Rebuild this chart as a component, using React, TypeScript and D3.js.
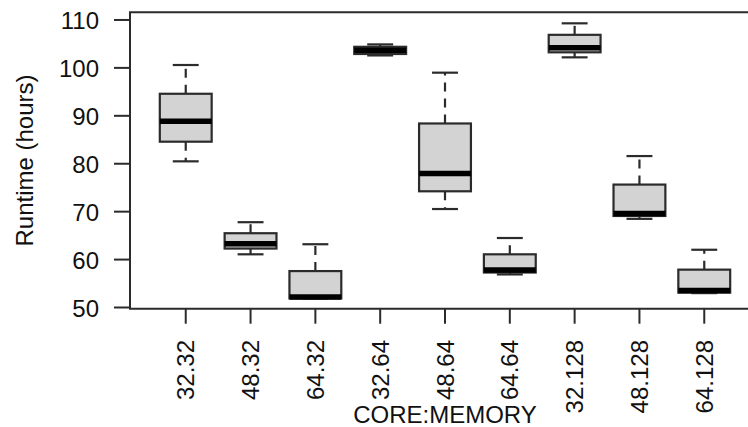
import React from "react";
import * as d3 from "d3";

const categories = ["32.32", "48.32", "64.32", "32.64", "48.64", "64.64", "32.128", "48.128", "64.128"];
const lowerWhisker = [80.5, 61.1, 51.9, 102.6, 70.55, 56.9, 102.2, 68.5, 53.0];
const q1Values = [84.6, 62.3, 51.9, 102.9, 74.25, 57.3, 103.25, 69.1, 53.1];
const medianValues = [88.85, 63.3, 52.2, 103.7, 77.95, 57.8, 104.2, 69.6, 53.55];
const q3Values = [94.6, 65.5, 57.6, 104.4, 88.4, 61.1, 106.9, 75.65, 57.9];
const upperWhisker = [100.6, 67.8, 63.2, 104.9, 99.0, 64.5, 109.3, 81.6, 62.05];
const yTicks = [50, 60, 70, 80, 90, 100, 110];

const W = 748;
const H = 427;
const FONT = "'Liberation Sans', Arial, Helvetica, sans-serif";
const INK = "#2b2b2b";

export default function App() {
  const n = categories.length;
  const x = d3.scaleLinear().domain([0.5 - 0.36, n + 0.5 + 0.36]).range([130, 760]);
  const y = d3.scaleLinear().domain([49.75, 111.6]).range([308.7, 12.3]);
  const unit = x(2) - x(1);
  const half = unit * 0.4;
  const staple = half * 0.5;
  const left = x.range()[0];
  const right = x.range()[1];
  const top = y.range()[1];
  const bottom = y.range()[0];

  return (
    <svg width={W} height={H} style={{ position: "absolute", left: 0, top: 0, background: "#fff" }} fontFamily={FONT}>
      {/* boxes */}
      {categories.map((c, i) => {
        const cx = x(i + 1);
        return (
          <g key={c}>
            <line x1={cx} x2={cx} y1={y(q3Values[i])} y2={y(upperWhisker[i])} stroke={INK} strokeWidth={2.2} strokeDasharray="9,7" />
            <line x1={cx} x2={cx} y1={y(q1Values[i])} y2={y(lowerWhisker[i])} stroke={INK} strokeWidth={2.2} strokeDasharray="9,7" />
            <line x1={cx - staple} x2={cx + staple} y1={y(upperWhisker[i])} y2={y(upperWhisker[i])} stroke={INK} strokeWidth={2.2} />
            <line x1={cx - staple} x2={cx + staple} y1={y(lowerWhisker[i])} y2={y(lowerWhisker[i])} stroke={INK} strokeWidth={2.2} />
            <rect x={cx - half} y={y(q3Values[i])} width={2 * half} height={Math.max(0.5, y(q1Values[i]) - y(q3Values[i]))} fill="#d3d3d3" stroke={INK} strokeWidth={2.2} />
            <line x1={cx - half} x2={cx + half} y1={y(medianValues[i])} y2={y(medianValues[i])} stroke="#000" strokeWidth={5.5} strokeLinecap="butt" />
          </g>
        );
      })}

      {/* frame (right edge falls outside the picture) */}
      <path d={`M${right},${top}H${left}V${bottom}H${right}`} fill="none" stroke={INK} strokeWidth={2} />

      {/* y axis */}
      <line x1={left} x2={left} y1={y(50)} y2={y(110)} stroke={INK} strokeWidth={2} />
      {yTicks.map((t) => (
        <g key={t}>
          <line x1={left - 16} x2={left} y1={y(t)} y2={y(t)} stroke={INK} strokeWidth={2} />
          <text x={99} y={y(t) + 9} textAnchor="end" fontSize={24} fill="#111">{t}</text>
        </g>
      ))}

      {/* x axis */}
      {categories.map((c, i) => (
        <g key={c}>
          <line x1={x(i + 1)} x2={x(i + 1)} y1={bottom} y2={bottom + 15} stroke={INK} strokeWidth={2} />
          <text transform={`translate(${x(i + 1) + 8.5},340) rotate(-90)`} textAnchor="end" fontSize={24} fill="#111">{c}</text>
        </g>
      ))}

      <text x={445} y={423} textAnchor="middle" fontSize={24} fill="#111">CORE:MEMORY</text>
      <text transform={`translate(33,${(top + bottom) / 2}) rotate(-90)`} textAnchor="middle" fontSize={24} fill="#111">Runtime (hours)</text>
    </svg>
  );
}
